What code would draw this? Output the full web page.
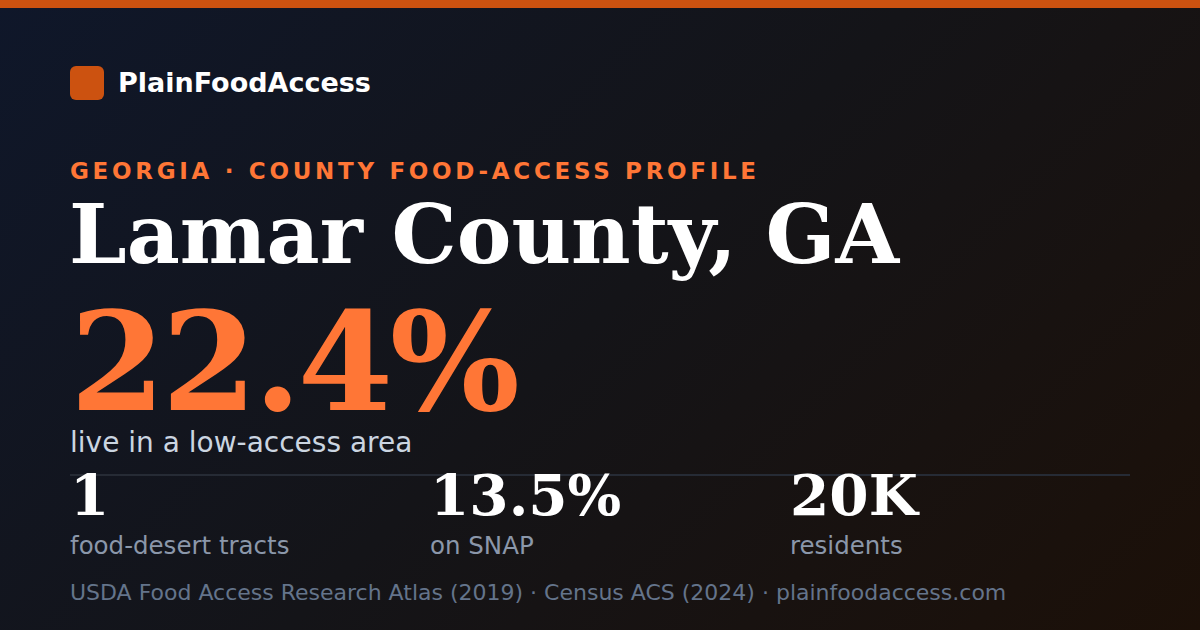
<!DOCTYPE html>
<html>
<head>
<meta charset="utf-8">
<script src="https://cdn.jsdelivr.net/npm/chart.js@4/dist/chart.umd.min.js"></script>
<style>
  html, body { margin: 0; padding: 0; }
  body {
    width: 1200px; height: 630px; overflow: hidden; position: relative;
    background: linear-gradient(135deg, #0f172a 0%, #141418 50%, #1c1008 100%);
    font-family: "DejaVu Sans", sans-serif;
  }
  .topbar { position: absolute; left: 0; top: 0; width: 1200px; height: 8px; background: #cc5210; }
  .logo { position: absolute; left: 70px; top: 66px; width: 34px; height: 34px; border-radius: 6px; background: #cc5210; }
  .brand { position: absolute; left: 118px; top: 66px; line-height: 34px; font-size: 27px; font-weight: bold; color: #fff; }
  .kicker { position: absolute; left: 70px; top: 158px; font-size: 23px; font-weight: bold; letter-spacing: 3.7px; color: #ff7636; }
  .title { position: absolute; left: 69px; top: 184px; font-family: "DejaVu Serif", serif; font-weight: bold; font-size: 82px; line-height: 100px; color: #fff; }
  .big { position: absolute; left: 70px; top: 310px; font-family: "DejaVu Serif", serif; font-weight: bold; font-size: 137px; line-height: 104px; color: #ff7636; letter-spacing: -3.5px; }
  .sub { position: absolute; left: 70px; top: 426px; font-size: 28px; line-height: 33px; color: #cbd5e1; }
  .rule { position: absolute; left: 70px; top: 474px; width: 1060px; height: 2px; background: #262b35; }
  .stat { position: absolute; top: 460px; }
  .stat .n { font-family: "DejaVu Serif", serif; font-weight: bold; font-size: 56.5px; line-height: 70px; color: #fff; }
  .stat .l { font-size: 24.5px; color: #8b97aa; margin-top: 1px; }
  .foot { position: absolute; left: 70px; top: 580px; font-size: 22px; color: #64748b; }
</style>
</head>
<body>
<div class="topbar"></div>
<div class="logo"></div>
<div class="brand">PlainFoodAccess</div>
<div class="kicker">GEORGIA · COUNTY FOOD-ACCESS PROFILE</div>
<div class="title">Lamar County, GA</div>
<div class="big" id="big"></div>
<div class="sub">live in a low-access area</div>
<div class="rule"></div>
<div id="stats"></div>
<div class="foot">USDA Food Access Research Atlas (2019) · Census ACS (2024) · plainfoodaccess.com</div>
<script>
const headline = ['22.4%'];
const statValues = ['1', '13.5%', '20K'];
const statLabels = ['food-desert tracts', 'on SNAP', 'residents'];
const statX = [70, 430, 790];

document.getElementById('big').textContent = headline[0];

const stats = document.getElementById('stats');
statValues.forEach(function(v, i) {
    const d = document.createElement('div');
    d.className = 'stat';
    d.style.left = statX[i] + 'px';
    d.innerHTML = '<div class="n">' + v + '</div><div class="l">' + statLabels[i] + '</div>';
    stats.appendChild(d);
});
</script>
</body>
</html>
